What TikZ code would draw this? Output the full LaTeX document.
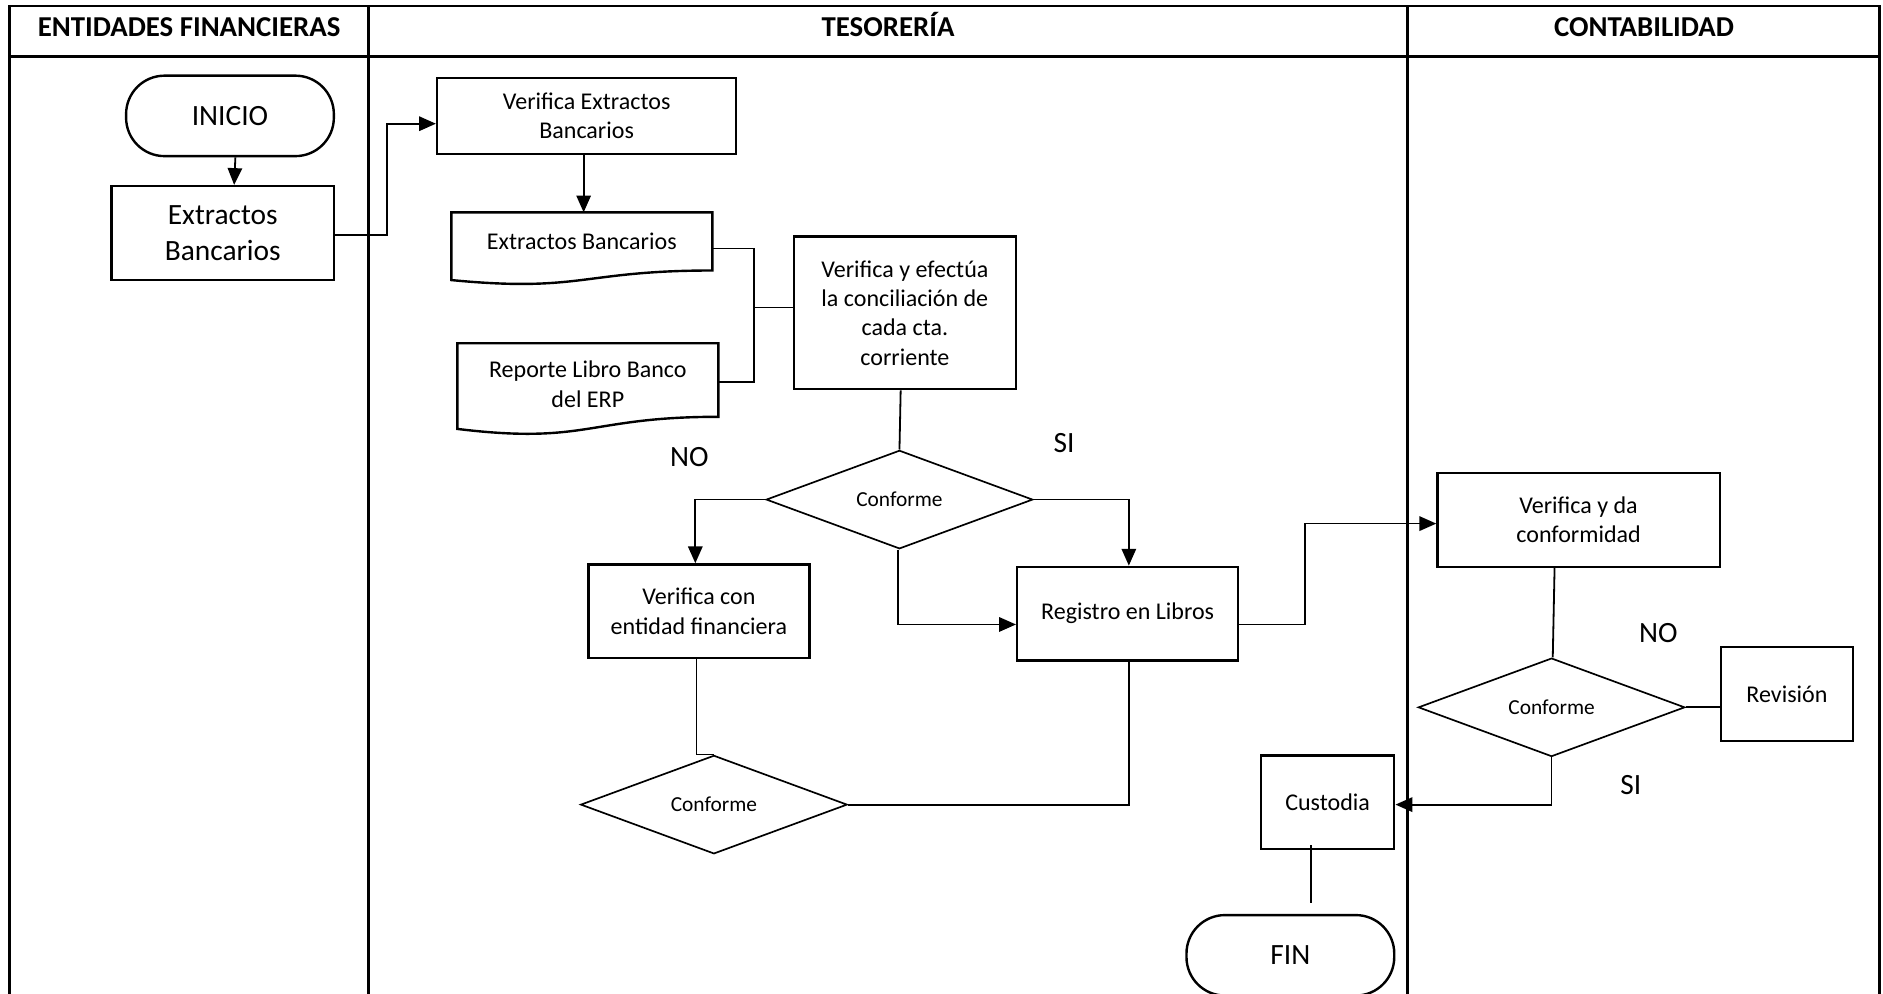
\documentclass[tikz,border=0pt]{standalone}
\usepackage{fontspec}
\setmainfont{Carlito}
\usetikzlibrary{shapes.geometric,arrows.meta,calc}

\newcommand{\txtn}{\fontsize{20}{24.4}\selectfont}
\newcommand{\txtb}{\fontsize{24.5}{30}\selectfont}
\newcommand{\txts}{\fontsize{17.8}{21}\selectfont}
\newcommand{\txth}{\fontsize{24}{29}\selectfont\bfseries}

% document symbol with a wavy lower edge, drawn around an empty node
\newcommand{\docpath}[1]{%
  \draw[boxline] (#1.north west) -- (#1.north east)
    -- ($(#1.north east)!0.802!(#1.south east)$)
    .. controls ($(#1.north)!0.802!(#1.south)$) and ($(#1.north)!1.1075!(#1.south)$)
    .. ($(#1.north west)!0.934!(#1.south west)$) -- cycle;}

\tikzset{
  boxline/.style={line width=2pt, line join=miter},
  procbox/.style={draw, boxline, rectangle, inner sep=0pt, align=center, font=\txtn},
  termbox/.style={draw, boxline, rectangle, rounded corners=32pt, inner sep=0pt,
    minimum width=173pt, minimum height=67pt, font=\txtb},
  decbox/.style={draw, line width=1.4pt, diamond, shape aspect=2.7, inner sep=0pt,
    minimum width=222pt, minimum height=82pt, font=\txts},
  docbox/.style={rectangle, inner sep=0pt},
  con/.style={line width=1.5pt},
  arr/.style={con, -{Triangle[length=14pt,width=12pt]}},
  lane/.style={line width=2.2pt},
  lbl/.style={font=\txtb, inner sep=0pt},
  hdr/.style={font=\txth, inner sep=0pt, anchor=base}
}

\begin{document}
\begin{tikzpicture}[x=1pt, y=-1pt]
\useasboundingbox (0,0) rectangle (1568,827.7);

% swimlane frame
\draw[lane] (8,835) -- (8,5) -- (1565,5) -- (1565,835);
\draw[lane] (8,47) -- (1565,47);
\draw[lane] (307,5) -- (307,835);
\draw[lane] (1172,5) -- (1172,835);
\node[hdr] (h1) at (157.5,30) {ENTIDADES FINANCIERAS};
\node[hdr] (h2) at (739.5,30) {TESORERÍA};
\node[hdr] (h3) at (1369,30) {CONTABILIDAD};

% entidades financieras
\node[termbox] (ini) at (191.5,96.5) {INICIO};
\node[procbox, font=\txtb, minimum width=185pt, minimum height=78pt] (ext1) at (185.5,194) {Extractos\\Bancarios};

% tesoreria
\node[procbox, minimum width=249pt, minimum height=63pt] (vex) at (488.5,96.5) {Verifica Extractos\\Bancarios};
\node[docbox, minimum width=217pt, minimum height=60pt] (doc1) at (484.5,207) {};
\docpath{doc1}
\node[font=\txtn, inner sep=0pt] (doc1t) at (484.5,201) {Extractos Bancarios};
\node[docbox, minimum width=217pt, minimum height=76pt] (doc2) at (489.5,324) {};
\docpath{doc2}
\node[font=\txtn, inner sep=0pt, align=center] (doc2t) at (489.5,320) {Reporte Libro Banco\\del ERP};
\node[procbox, minimum width=185pt, minimum height=127pt] (vye) at (753.5,260.5) {Verifica y efectúa\\la conciliación de\\cada cta.\\corriente};
\node[decbox] (d1) at (749,416) {Conforme};
\node[procbox, minimum width=184pt, minimum height=78pt] (vce) at (582,509) {Verifica con\\entidad financiera};
\node[procbox, minimum width=184pt, minimum height=78pt] (reg) at (939,511) {Registro en Libros};
\node[decbox] (d2) at (594.5,670) {Conforme};
\node[procbox, minimum width=111pt, minimum height=78pt] (cus) at (1105.5,668) {Custodia};
\node[termbox] (fin) at (1074.5,795.5) {FIN};
\node[lbl] (no1) at (574,381) {NO};
\node[lbl] (si1) at (886,369) {SI};

% contabilidad
\node[procbox, minimum width=235pt, minimum height=78pt] (vyd) at (1314.5,433) {Verifica y da\\conformidad};
\node[decbox] (d3) at (1292,589) {Conforme};
\node[procbox, minimum width=110pt, minimum height=78pt] (rev) at (1488,578) {Revisión};
\node[lbl] (no2) at (1381,527) {NO};
\node[lbl] (si2) at (1358,654) {SI};

% connectors
\coordinate (jn) at (628,256);
\draw[arr] ([xshift=4.5pt]ini.south) -- ([xshift=9.5pt]ext1.north);
\draw[arr] ([yshift=-2pt]ext1.east) -- ++(43,0) |- ([yshift=-6.5pt]vex.west);
\draw[arr] ([xshift=-2.5pt]vex.south) -- ([xshift=1.5pt]doc1.north);
\draw[con] (doc1.east) -| (jn) |- ([yshift=6pt]doc2.east);
\draw[con] (jn) -- ([yshift=4.5pt]vye.west);
\draw[con] ([xshift=-3.5pt]vye.south) -- (d1.north);
\draw[arr] (d1.west) -| ([xshift=-3pt]vce.north);
\draw[arr] (d1.east) -| ([xshift=1pt]reg.north);
\draw[arr] ([xshift=-1pt]d1.south) |- ([yshift=-9pt]reg.west);
\draw[con] ([xshift=-2pt]vce.south) |- (d2.north);
\draw[con] (d2.east) -| ([xshift=1pt]reg.south);
\draw[arr] ([yshift=-9pt]reg.east) -- ++(55,0) |- ([yshift=-3pt]vyd.west);
\draw[con] ([xshift=-20pt]vyd.south) -- ([xshift=1pt]d3.north);
\draw[con] (d3.east) -- ([yshift=-11pt]rev.west);
\draw[arr] (d3.south) |- ([yshift=-2pt]cus.east);
\draw[con] ([xshift=-13.5pt,yshift=4pt]cus.south) -- ([xshift=17.5pt,yshift=9pt]fin.north);
\end{tikzpicture}
\end{document}
